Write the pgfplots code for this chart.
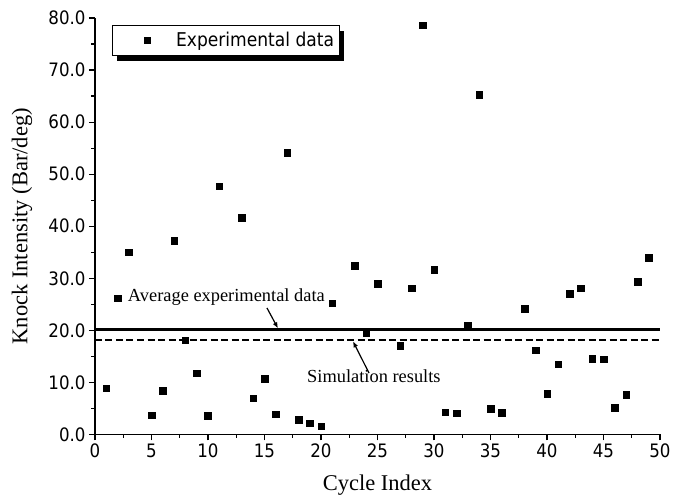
\documentclass[border=0pt]{standalone}
\usepackage{pgfplots}
\pgfplotsset{compat=1.18}
\usetikzlibrary{shadows,arrows.meta}
\usepackage{fontspec}
\setmainfont{Liberation Serif}
\newfontfamily\tickfont{DejaVu Sans Condensed}
\begin{document}
\begin{tikzpicture}
\path[use as bounding box] (-95pt,-67.5pt) rectangle (579pt,434.5pt);
\begin{axis}[
  scale only axis,
  width=565pt, height=416.5pt,
  xmin=0, xmax=50, ymin=0, ymax=80,
  axis x line*=bottom, axis y line*=left,
  axis line style={line width=1.4pt},
  xtick={0,5,...,50}, ytick={0,10,...,80},
  minor x tick num=1, minor y tick num=1,
  xtick pos=bottom, ytick pos=left,
  tick align=outside,
  major tick length=6pt, minor tick length=3.5pt,
  every tick/.style={black, line width=1.2pt},
  /pgf/number format/assume math mode=true,
  ticklabel style={font=\tickfont\fontsize{18.5}{21}\selectfont},
  yticklabel style={/pgf/number format/.cd, fixed, fixed zerofill, precision=1},
  xticklabel style={/pgf/number format/.cd, fixed, precision=0},
  xlabel={Cycle Index},
  ylabel={Knock Intensity (Bar/deg)},
  label style={font=\fontsize{22.5}{26}\selectfont},
  xlabel style={at={(axis description cs:0.5,0)}, anchor=north, yshift=-40pt, inner sep=0pt},
  ylabel style={at={(axis description cs:0,0.5)}, anchor=center, yshift=73pt, inner sep=0pt},
  legend style={at={(0.030,0.983)}, anchor=north west, draw=black, line width=0.8pt,
    fill=white, inner xsep=3pt, inner ysep=5pt,
    drop shadow={shadow xshift=5pt, shadow yshift=-6pt, opacity=1, fill=black},
    font=\tickfont\fontsize{19}{22}\selectfont},
  legend cell align=left,
]
\addplot[only marks, mark=square*, mark size=3.3pt, black,
  legend image code/.code={\path (-32pt,0pt) (26pt,0pt); \path plot[mark=square*, mark size=3pt, mark options={draw=black,fill=black}] coordinates {(0pt,0pt)};}]
  coordinates {
(1,8.9) (2,26.2) (3,35.0) (5,3.7) (6,8.4) (7,37.2) (8,18.1) (9,11.8) (10,3.6)
(11,47.7) (13,41.6) (14,7.0) (15,10.7) (16,3.9) (17,54.1) (18,2.8) (19,2.2) (20,1.6)
(21,25.2) (23,32.4) (24,19.6) (25,29.0) (27,17.1) (28,28.1) (29,78.6) (30,31.7)
(31,4.3) (32,4.1) (33,21.0) (34,65.3) (35,5.0) (36,4.2) (38,24.2) (39,16.2) (40,7.8)
(41,13.5) (42,27.0) (43,28.1) (44,14.6) (45,14.5) (46,5.1) (47,7.6) (48,29.3) (49,34.0)
};
\addlegendentry{Experimental data}
\addplot[black, line width=2.6pt, forget plot] coordinates {(0,20.2) (50,20.2)};
\addplot[black, line width=2.4pt, dash pattern=on 7pt off 3.5pt, forget plot] coordinates {(0,18.1) (50,18.1)};
\node[anchor=base west, inner sep=0pt, font=\fontsize{18.4}{22}\selectfont] at (axis cs:2.9,25.5) {Average experimental data};
\node[anchor=base west, inner sep=0pt, font=\fontsize{18.4}{22}\selectfont] at (axis cs:18.76,9.95) {Simulation results};
\draw[line width=1.2pt, -{Latex[length=6pt,width=5pt]}] (axis cs:15.22,24.3) -- (axis cs:16.19,20.4);
\draw[line width=1.2pt, -{Latex[length=6pt,width=5pt]}] (axis cs:24.25,11.8) -- (axis cs:22.83,17.9);
\end{axis}
\end{tikzpicture}
\end{document}
